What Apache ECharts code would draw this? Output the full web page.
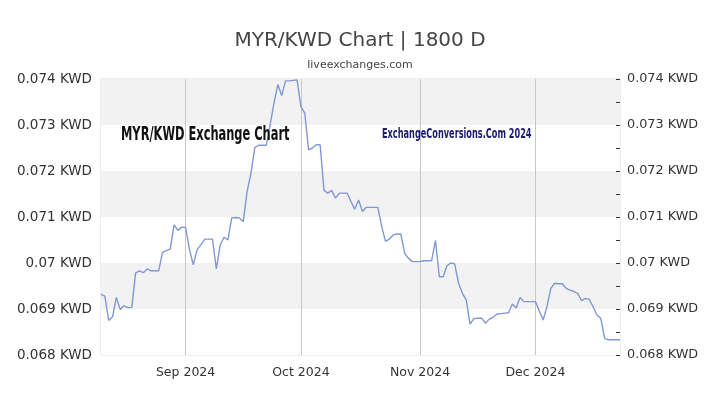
<!DOCTYPE html>
<html>
<head>
<meta charset="utf-8">
<script src="https://cdn.jsdelivr.net/npm/echarts@6/dist/echarts.min.js"></script>
<style>
  html, body { margin: 0; padding: 0; background: #fff; }
  #chart { width: 720px; height: 405px; }
</style>
</head>
<body>
<div id="chart"></div>
<script>
// daily MYR/KWD rate, first value is 2024-08-10
const startDay = '2024-08-10'
const rates = [
  0.06932, 0.06928, 0.06875, 0.06883, 0.06925, 0.06899, 0.06907, 0.06903, 0.06903, 0.06978,
  0.06983, 0.06979, 0.06987, 0.06983, 0.06983, 0.06983, 0.07023, 0.07027, 0.07030, 0.07083,
  0.07071, 0.07078, 0.07077, 0.07030, 0.06996, 0.07029, 0.07040, 0.07052, 0.07052, 0.07052,
  0.06987, 0.07039, 0.07056, 0.07050, 0.07098, 0.07099, 0.07098, 0.07090, 0.07155, 0.07195,
  0.07251, 0.07256, 0.07256, 0.07256, 0.07301, 0.07348, 0.07388, 0.07364, 0.07396, 0.07396,
  0.07397, 0.07398, 0.07340, 0.07326, 0.07246, 0.07250, 0.07257, 0.07257, 0.07158, 0.07152,
  0.07158, 0.07141, 0.07152, 0.07152, 0.07152, 0.07134, 0.07117, 0.07137, 0.07112, 0.07121,
  0.07121, 0.07121, 0.07121, 0.07080, 0.07047, 0.07052, 0.07061, 0.07063, 0.07063, 0.07021,
  0.07010, 0.07003, 0.07003, 0.07003, 0.07005, 0.07005, 0.07005, 0.07049, 0.06970, 0.06970,
  0.06994, 0.07000, 0.06998, 0.06956, 0.06934, 0.06920, 0.06867, 0.06879, 0.06880, 0.06880,
  0.06869, 0.06878, 0.06882, 0.06889, 0.06890, 0.06891, 0.06892, 0.06911, 0.06902, 0.06925,
  0.06916, 0.06916, 0.06916, 0.06916, 0.06896, 0.06876, 0.06905, 0.06945, 0.06956, 0.06955,
  0.06955, 0.06945, 0.06941, 0.06938, 0.06934, 0.06918, 0.06923, 0.06921, 0.06905, 0.06887,
  0.06880, 0.06836, 0.06833, 0.06833, 0.06833, 0.06833,
]
const monthTicks = ['2024-09-01', '2024-10-01', '2024-11-01', '2024-12-01']
const monthLabels = ['Sep 2024', 'Oct 2024', 'Nov 2024', 'Dec 2024']
const yMin = 0.068
const yMax = 0.074
const yStep = 0.001

const days = rates.map((_, i) => {
  const d = new Date(startDay + 'T00:00:00Z')
  d.setUTCDate(d.getUTCDate() + i)
  return d.toISOString().slice(0, 10)
})

const isMonthStart = (idx, value) => monthTicks.indexOf(value) >= 0
const fmtRate = (v) => Number(v.toFixed(3)) + ' KWD'
const labelFont = 'DejaVu Sans'
const narrowFont = '"DejaVu Sans Condensed", "Liberation Sans Narrow", sans-serif'

const chart = echarts.init(document.getElementById('chart'))

const option = {
  animation: false,
  backgroundColor: '#fff',
  title: {
    text: 'MYR/KWD Chart | 1800 D',
    subtext: 'liveexchanges.com',
    left: 'center',
    top: 26,
    itemGap: 9,
    textStyle: { fontFamily: labelFont, fontSize: 20, fontWeight: 'normal', color: '#444' },
    subtextStyle: { fontFamily: labelFont, fontSize: 11, color: '#444' },
  },
  grid: {
    left: 101,
    right: 100,
    top: 79,
    bottom: 50,
    show: true,
    borderColor: '#dcdcdc',
    borderWidth: 1,
  },
  graphic: {
    elements: [
      {
        type: 'text',
        x: 121,
        y: 125,
        z: 100,
        scaleY: 1.5,
        style: {
          text: 'MYR/KWD Exchange Chart',
          fontFamily: narrowFont,
          fontWeight: 'bold',
          fontSize: 12.7,
          fill: '#111',
        },
      },
      {
        type: 'text',
        x: 382,
        y: 127,
        z: 100,
        scaleY: 1.55,
        style: {
          text: 'ExchangeConversions.Com 2024',
          fontFamily: narrowFont,
          fontWeight: 'bold',
          fontSize: 9.1,
          fill: '#1b1b6b',
        },
      },
    ],
  },
  xAxis: {
    type: 'category',
    data: days,
    boundaryGap: false,
    axisLine: { show: false },
    axisTick: { show: false },
    axisLabel: {
      interval: isMonthStart,
      formatter: (value) => monthLabels[monthTicks.indexOf(value)],
      fontFamily: labelFont,
      fontSize: 12.5,
      color: '#333',
      margin: 11,
    },
    splitLine: {
      show: true,
      interval: isMonthStart,
      lineStyle: { color: '#c8c8c8', width: 1 },
    },
  },
  yAxis: [
    {
      type: 'value',
      min: yMin,
      max: yMax,
      interval: yStep,
      position: 'left',
      axisLine: { show: false },
      axisTick: { show: false },
      splitLine: { show: false },
      splitArea: { show: true, areaStyle: { color: ['#ffffff', '#f2f2f2'] } },
      axisLabel: {
        formatter: fmtRate,
        fontFamily: labelFont,
        fontSize: 13.5,
        color: '#333',
        margin: 9,
      },
    },
    {
      type: 'value',
      min: yMin,
      max: yMax,
      interval: yStep,
      position: 'right',
      axisLine: { show: false },
      axisTick: { show: true, inside: true, length: 4, lineStyle: { color: '#333' } },
      minorTick: { show: true, splitNumber: 2, length: 4, lineStyle: { color: '#333' } },
      splitLine: { show: false },
      axisLabel: {
        formatter: fmtRate,
        fontFamily: labelFont,
        fontSize: 12.8,
        color: '#333',
        margin: 7,
      },
    },
  ],
  series: [
    {
      type: 'line',
      data: rates,
      showSymbol: false,
      lineStyle: { color: '#8198d6', width: 1.4 },
      itemStyle: { color: '#8198d6' },
    },
  ],
}

chart.setOption(option)
</script>
</body>
</html>
